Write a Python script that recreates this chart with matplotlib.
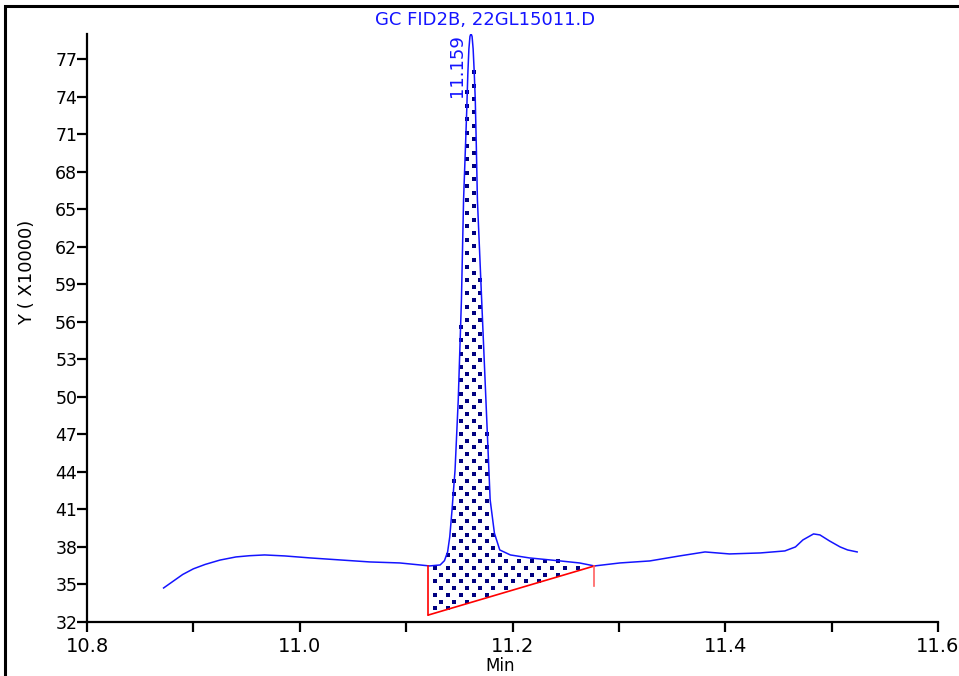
import matplotlib.pyplot as plt
import matplotlib.patches as mpatches
from matplotlib.path import Path
import numpy as np

# Хроматограма (час, хв; сигнал, x10000)
t = [10.872, 10.880, 10.890, 10.900, 10.911, 10.925, 10.940, 10.953, 10.967,
     10.986, 11.010, 11.038, 11.066, 11.094, 11.113, 11.122, 11.132, 11.136,
     11.139, 11.141, 11.143, 11.146, 11.149, 11.152, 11.154, 11.156, 11.157,
     11.158, 11.159, 11.160, 11.161, 11.162, 11.163, 11.164, 11.165, 11.166,
     11.167, 11.171, 11.175, 11.179, 11.183, 11.188, 11.198, 11.216, 11.245,
     11.263, 11.277, 11.301, 11.329, 11.357, 11.381, 11.404, 11.433, 11.456,
     11.466, 11.473, 11.483, 11.489, 11.498, 11.508, 11.515, 11.524]
sig = [34.72, 35.20, 35.80, 36.25, 36.60, 36.95, 37.20, 37.30, 37.36,
       37.28, 37.12, 36.96, 36.80, 36.72, 36.56, 36.48, 36.56, 36.90,
       37.60, 38.80, 40.80, 44.16, 49.76, 57.76, 65.76, 70.50, 72.96,
       75.80, 77.80, 78.80, 79.04, 78.80, 77.80, 76.00, 73.76, 70.00,
       65.76, 57.76, 49.76, 41.76, 39.10, 37.76, 37.36, 37.12, 36.88,
       36.72, 36.48, 36.72, 36.88, 37.28, 37.60, 37.44, 37.52, 37.68,
       38.00, 38.56, 39.04, 38.96, 38.48, 38.00, 37.76, 37.60]

# Межі інтегрування і базова лінія
peak_rt = 11.159
base_start = (11.121, 32.56)
base_end = (11.277, 36.48)
end_tick_low = 34.88

yticks = [32, 35, 38, 41, 44, 47, 50, 53, 56, 59, 62, 65, 68, 71, 74, 77]
xticks = [10.8, 11.0, 11.2, 11.4, 11.6]
xminor = [10.9, 11.1, 11.3, 11.5]

t = np.array(t)
sig = np.array(sig)

fig = plt.figure(figsize=(9.59, 6.76), dpi=100)
ax = fig.add_axes([87/959, 1-622/676, (938-87)/959, (622-34)/676])
ax.set_xlim(10.8, 11.6)
ax.set_ylim(32, 79)

ax.plot(t, sig, color='#1414ff', lw=1.1, zorder=3)

# Площа піку між кривою і базовою лінією
m = (t >= base_start[0]) & (t <= base_end[0])
ix = np.concatenate([[base_start[0]], t[m], [base_end[0]]])
iy = np.interp(ix, t, sig)
by = np.interp(ix, [base_start[0], base_end[0]], [base_start[1], base_end[1]])
poly = ax.fill_between(ix, by, iy, facecolor='white', linewidth=0)

# Крапковий візерунок (сітка в пікселях), обрізаний по площі піку
verts = np.column_stack([np.concatenate([ix, ix[::-1]]), np.concatenate([iy, by[::-1]])])
pix = ax.transData.transform(verts)
x0, y0 = pix.min(axis=0)
x1, y1 = pix.max(axis=0)
pts = []
for k, yy in enumerate(np.arange(y0, y1 + 7, 6.7)):
    off = 0 if k % 2 == 0 else 6.5
    for xx in np.arange(x0 + off, x1 + 13, 13.0):
        pts.append((xx, yy))
pts = np.array(pts)
inside = Path(pix).contains_points(pts)
dots = ax.transData.inverted().transform(pts[inside])
ax.scatter(dots[:, 0], dots[:, 1], marker='s', s=5, color='#000080', linewidths=0, zorder=2)

ax.plot([base_start[0], base_end[0]], [base_start[1], base_end[1]], color='red', lw=1.2, zorder=4)
ax.plot([base_start[0], base_start[0]], [base_start[1], np.interp(base_start[0], t, sig)],
        color='red', lw=1.2, zorder=4)
ax.plot([base_end[0], base_end[0]], [end_tick_low, base_end[1]], color='#ff6060', lw=1.2, zorder=4)

ax.text(peak_rt - 0.011, 79.0, f'{peak_rt:.3f}', rotation=90, ha='center', va='top',
        color='#1414ff', fontsize=13)

ax.set_xticks(xticks)
ax.set_xticklabels([f'{v:.1f}' for v in xticks])
ax.set_xticks(xminor, minor=True)
ax.set_yticks(yticks)
for s in ['top', 'right']:
    ax.spines[s].set_visible(False)
for s in ['left', 'bottom']:
    ax.spines[s].set_linewidth(1.6)
ax.tick_params(axis='x', which='both', direction='out', length=7, width=1.6, labelsize=14, pad=4)
ax.tick_params(axis='y', direction='out', length=7, width=1.6, labelsize=12.5, pad=0)

fig.text(485/959, 1-20/676, 'GC FID2B, 22GL15011.D', ha='center', va='center',
         color='#1414ff', fontsize=13)
fig.text(27/959, 1-272/676, 'Y ( X10000)', rotation=90, ha='center', va='center', fontsize=13)
fig.text(500/959, 1/676, 'Min', ha='center', va='bottom', fontsize=12)

fig.add_artist(mpatches.Rectangle((5/959, -0.1), 1.2, 0.1 + 1 - 6/676, fill=False,
                                  lw=2.2, edgecolor='black', transform=fig.transFigure))

fig.savefig('out.png', dpi=100)
